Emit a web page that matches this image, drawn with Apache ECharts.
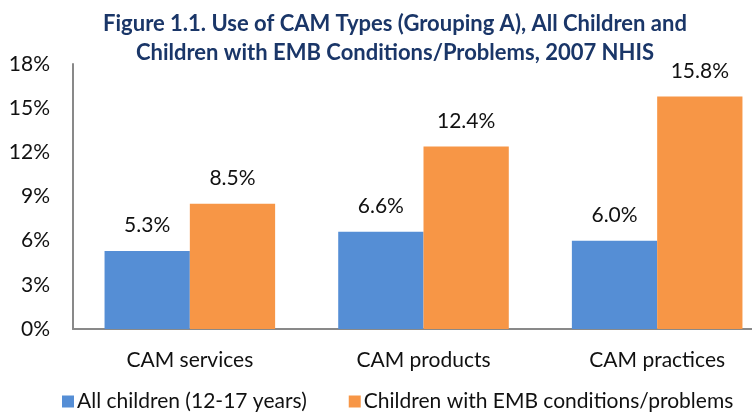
<!DOCTYPE html>
<html>
<head>
<meta charset="utf-8">
<script src="https://cdn.jsdelivr.net/npm/echarts@6/dist/echarts.min.js"></script>
<style>
html, body { margin: 0; padding: 0; background: #fff; }
#chart { width: 752px; height: 415px; }
</style>
</head>
<body>
<div id="chart"></div>
<script>
const categories = ['CAM services', 'CAM products', 'CAM practices']
const allChildren = [5.3, 6.6, 6.0]
const embChildren = [8.5, 12.4, 15.8]
const seriesNames = ['All children (12-17 years)', 'Children with EMB conditions/problems']
const titleLines = ['Figure 1.1. Use of CAM Types (Grouping A), All Children and', 'Children with EMB Conditions/Problems, 2007 NHIS']

const font = 'Lato, "Open Sans", sans-serif'
const chart = echarts.init(document.getElementById('chart'))

const labelStyle = {
  show: true,
  position: 'top',
  distance: 15,
  fontFamily: font,
  fontSize: 21,
  color: '#111',
  formatter: p => p.value.toFixed(1) + '%'
}

chart.setOption({
  animation: false,
  title: {
    text: titleLines.join('\n'),
    left: 390,
    textAlign: 'center',
    top: 4,
    textStyle: { fontFamily: font, fontSize: 22, fontWeight: 'bold', color: '#1A3668', lineHeight: 29 }
  },
  legend: {
    bottom: -2,
    left: 57,
    itemWidth: 12,
    itemHeight: 12,
    itemGap: 42,
    icon: 'rect',
    textStyle: { fontFamily: font, fontSize: 21, color: '#111', padding: [0, 0, 0, -2] },
    data: seriesNames
  },
  // plot area runs past the right edge of the picture, as in the original crop
  grid: { left: 73, right: -22, top: 64, bottom: 86, outerBoundsMode: 'none', containLabel: false },
  xAxis: {
    type: 'category',
    data: categories,
    axisLine: { lineStyle: { color: '#898989', width: 2 } },
    axisTick: { show: false },
    axisLabel: { fontFamily: font, fontSize: 21, color: '#111', margin: 21 }
  },
  yAxis: {
    type: 'value',
    min: 0,
    max: 18,
    interval: 3,
    axisLine: { show: true, lineStyle: { color: '#898989', width: 2 } },
    axisTick: { show: false },
    splitLine: { show: false },
    axisLabel: { fontFamily: font, fontSize: 21, color: '#111', margin: 23, formatter: '{value}%' }
  },
  series: [
    {
      name: seriesNames[0],
      type: 'bar',
      data: allChildren,
      itemStyle: { color: '#558ED5' },
      barGap: '0%',
      barCategoryGap: '27%',
      label: labelStyle
    },
    {
      name: seriesNames[1],
      type: 'bar',
      data: embChildren,
      itemStyle: { color: '#F79646' },
      label: labelStyle
    }
  ]
})
</script>
</body>
</html>
